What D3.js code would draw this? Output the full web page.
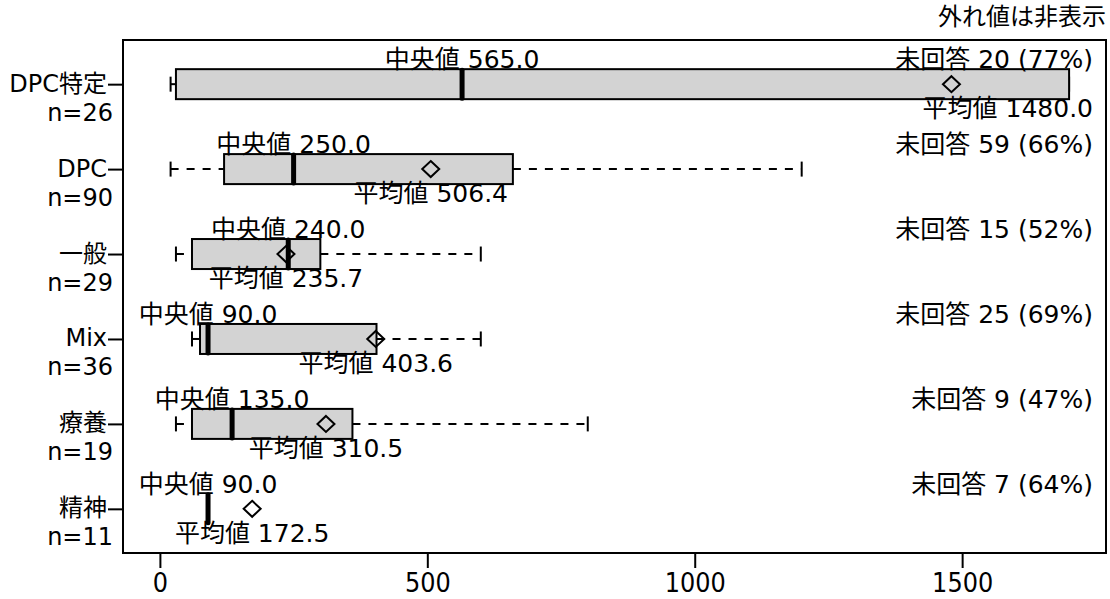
<!DOCTYPE html>
<html>
<head>
<meta charset="utf-8">
<script src="https://cdn.jsdelivr.net/npm/d3@7"></script>
<style>
  html, body { margin: 0; padding: 0; background: #fff; }
  svg { display: block; }
  text { font-family: "DejaVu Sans", "Noto Sans CJK JP", sans-serif; fill: #000; }
</style>
</head>
<body>
<svg id="chart" width="1110" height="599"></svg>
<script>
// ---- data ----
const categories   = ["DPC特定", "DPC", "一般", "Mix", "療養", "精神"];
const nCounts      = [26, 90, 29, 36, 19, 11];
const lowWhisker   = [20, 20, 30, 60, 30, 90];
const q1Values     = [30, 120, 60, 75, 60, 90];
const medians      = [565, 250, 240, 90, 135, 90];
const q3Values     = [1700, 660, 300, 405, 360, 90];
const highWhisker  = [1700, 1200, 600, 600, 800, 90];
const means        = [1480.0, 506.4, 235.7, 403.6, 310.5, 172.5];
const missingCount = [20, 59, 15, 25, 9, 7];
const missingPct   = [77, 66, 52, 69, 47, 64];
const xTicks       = [0, 500, 1000, 1500];
const noteText     = "外れ値は非表示";

// ---- layout ----
const plot = { left: 123, top: 40, right: 1106, bottom: 553 };
const svg = d3.select("#chart");

const x = d3.scaleLinear().domain([-69, 1769]).range([plot.left, plot.right]);
const y = d3.scaleLinear().domain([0.48, 6.52]).range([plot.top, plot.bottom]);

const rows = categories.map((c, i) => ({
  cat: c, n: nCounts[i], lo: lowWhisker[i], q1: q1Values[i], med: medians[i],
  q3: q3Values[i], hi: highWhisker[i], mean: means[i],
  miss: missingCount[i], pct: missingPct[i], pos: i + 1
}));

const boxHalf = 15;
const capHalf = 7.5;
const labelRight = 1093;

const g = svg.append("g");

rows.forEach(r => {
  const cy = y(r.pos);
  const row = g.append("g");
  // whiskers (dashed)
  row.append("line")
    .attr("x1", x(r.lo)).attr("x2", x(r.q1)).attr("y1", cy).attr("y2", cy)
    .attr("stroke", "#000").attr("stroke-width", 2).attr("stroke-dasharray", "8,8");
  row.append("line")
    .attr("x1", x(r.q3)).attr("x2", x(r.hi)).attr("y1", cy).attr("y2", cy)
    .attr("stroke", "#000").attr("stroke-width", 2).attr("stroke-dasharray", "8,8");
  // caps
  [r.lo, r.hi].forEach(v => {
    row.append("line")
      .attr("x1", x(v)).attr("x2", x(v)).attr("y1", cy - capHalf).attr("y2", cy + capHalf)
      .attr("stroke", "#000").attr("stroke-width", 2);
  });
  // box
  row.append("rect")
    .attr("x", x(r.q1)).attr("y", cy - boxHalf)
    .attr("width", Math.max(0, x(r.q3) - x(r.q1))).attr("height", boxHalf * 2)
    .attr("fill", "#d3d3d3").attr("stroke", "#000").attr("stroke-width", 2);
  // median
  row.append("line")
    .attr("x1", x(r.med)).attr("x2", x(r.med)).attr("y1", cy - boxHalf + 1).attr("y2", cy + boxHalf - 1)
    .attr("stroke", "#000").attr("stroke-width", 5).attr("stroke-linecap", "round");
  // mean diamond
  const mx = x(r.mean), dw = 8.5, dh = 8;
  row.append("path")
    .attr("d", `M${mx},${cy - dh}L${mx + dw},${cy}L${mx},${cy + dh}L${mx - dw},${cy}Z`)
    .attr("fill", "none").attr("stroke", "#000").attr("stroke-width", 2);

  // median label
  row.append("text")
    .attr("x", x(r.med)).attr("y", cy - 16)
    .attr("text-anchor", "middle").style("font-size", "25px")
    .text("中央値 " + r.med.toFixed(1));
  // mean label (right-aligned when it would run into the right margin)
  const mt = row.append("text")
    .attr("x", mx).attr("y", cy + 33)
    .attr("text-anchor", "middle").style("font-size", "25px")
    .text("平均値 " + r.mean.toFixed(1));
  const w = mt.node().getComputedTextLength();
  if (mx + w > labelRight) {
    mt.attr("text-anchor", "end").attr("x", labelRight);
  }
  // missing label
  row.append("text")
    .attr("x", labelRight).attr("y", cy - 16)
    .attr("text-anchor", "end").style("font-size", "25px")
    .text(`未回答 ${r.miss} (${r.pct}%)`);
});

// frame
svg.append("rect")
  .attr("x", plot.left).attr("y", plot.top)
  .attr("width", plot.right - plot.left).attr("height", plot.bottom - plot.top)
  .attr("fill", "none").attr("stroke", "#000").attr("stroke-width", 2);

// x axis
const xAxis = svg.append("g")
  .attr("transform", `translate(0,${plot.bottom})`)
  .call(d3.axisBottom(x).tickValues(xTicks).tickSize(15).tickFormat(d3.format("d")));
xAxis.select(".domain").remove();
xAxis.selectAll(".tick line").attr("stroke", "#000").attr("stroke-width", 2);
xAxis.selectAll(".tick text")
  .attr("y", 0).attr("dy", null)
  .attr("transform", "translate(0,39) scale(1,1.13)")
  .style("font-size", "24px").style("font-family", "\"DejaVu Sans\", sans-serif").attr("fill", "#000");

// y axis
const yAxis = svg.append("g")
  .attr("transform", `translate(${plot.left},0)`)
  .call(d3.axisLeft(y).tickValues(rows.map(r => r.pos)).tickSize(15).tickFormat(""));
yAxis.select(".domain").remove();
yAxis.selectAll(".tick line").attr("stroke", "#000").attr("stroke-width", 2);

rows.forEach(r => {
  const cy = y(r.pos);
  svg.append("text")
    .attr("x", 107).attr("y", cy + 7.5)
    .attr("text-anchor", "end").style("font-size", "24px")
    .text(r.cat);
  svg.append("text")
    .attr("x", 113).attr("y", cy + 36.5)
    .attr("text-anchor", "end").style("font-size", "24px")
    .text("n=" + r.n);
});

// note
svg.append("text")
  .attr("x", plot.right).attr("y", 25)
  .attr("text-anchor", "end").style("font-size", "24px")
  .text(noteText);
</script>
</body>
</html>
